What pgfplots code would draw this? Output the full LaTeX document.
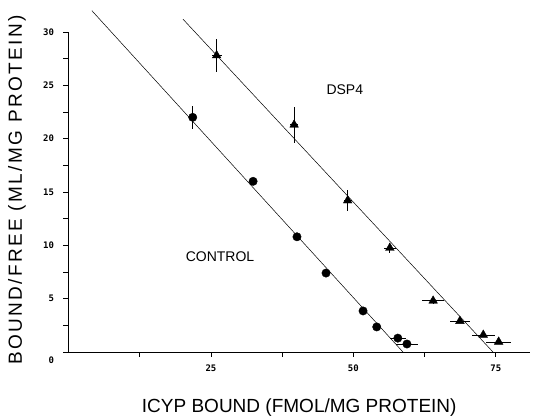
\documentclass[border=0pt]{standalone}
\usepackage{fontspec}
\setmainfont{Liberation Sans}
\newfontfamily\tickfont{DejaVu Sans Mono}
\usepackage{pgfplots}
\pgfplotsset{compat=1.18}

% control: x y ex ey
\pgfplotstableread{
x     y     ex   ey
21.8  22.0  0.5  1.1
32.4  16.0  0.3  0.2
40.1  10.8  0.3  0.2
45.2  7.4   0.3  0.2
51.7  3.85  0.3  0.2
54.1  2.35  0.3  0.2
57.8  1.3   1.4  0.2
59.4  0.75  2.0  0.2
}\control

% DSP4
\pgfplotstableread{
x     y     ex   ey
26.0  27.8  0.9  1.55
39.6  21.3  0.7  1.7
49.0  14.2  0.7  1.0
56.4  9.75  1.0  0.5
64.0  4.8   1.9  0.3
68.7  2.9   1.7  0.2
72.8  1.6   2.0  0.2
75.5  0.95  2.2  0.2
}\dspfour

\begin{document}
\begin{tikzpicture}
\useasboundingbox (-68.5pt,-65pt) rectangle (473.5pt,352pt);
\begin{axis}[
    at={(0,0)}, anchor=south west,
    scale only axis,
    width=461.5pt, height=320pt,
    xmin=0, xmax=81, ymin=0, ymax=30,
    axis lines*=left,
    clip=false,
    xtick={25,50,75}, minor xtick={12.5,37.5,62.5},
    ytick={5,10,...,30}, minor ytick={2.5,7.5,...,27.5},
    extra y ticks={0},
    extra y tick style={yticklabel style={yshift=-8pt}},
    tick align=outside,
    major tick length=5pt, minor tick length=5pt,
    tick style={black, line width=0.8pt},
    axis line style={black, line width=0.9pt},
    tick label style={font=\tickfont\bfseries\fontsize{9}{10}\selectfont},
    /pgf/number format/assume math mode=true,
    xticklabel style={yshift=-4pt},
    yticklabel style={xshift=-6pt},
    xlabel={ICYP BOUND (FMOL/MG PROTEIN)},
    ylabel={BOUND/FREE (ML/MG PROTEIN)},
    xlabel style={at={(axis description cs:0.5,-0.173)}, anchor=center,
        font=\fontsize{19}{22}\selectfont},
    ylabel style={at={(axis description cs:-0.1116,0.506)}, anchor=center,
        font=\fontsize{19}{22}\selectfont\addfontfeatures{LetterSpace=12.6}},
]

% fitted lines
\addplot[black, line width=0.5pt] coordinates {(4.1,32) (58.7,0)};
\addplot[black, line width=0.5pt] coordinates {(20.1,31.2) (74.5,0)};

% control points
\addplot[black, only marks, mark=*, mark size=4.2pt,
    error bars/.cd, x dir=both, x explicit, y dir=both, y explicit,
    error mark=none, error bar style={line width=0.7pt}]
    table[x=x, y=y, x error=ex, y error=ey] {\control};

% DSP4 points
\addplot[black, only marks, mark=triangle*, mark size=5pt,
    error bars/.cd, x dir=both, x explicit, y dir=both, y explicit,
    error mark=none, error bar style={line width=0.7pt}]
    table[x=x, y=y, x error=ex, y error=ey] {\dspfour};

\node[font=\fontsize{14}{16}\selectfont] at (axis cs:48.5,24.6) {DSP4};
\node[font=\fontsize{14}{16}\selectfont] at (axis cs:26.6,8.9) {CONTROL};

\end{axis}
\end{tikzpicture}
\end{document}
